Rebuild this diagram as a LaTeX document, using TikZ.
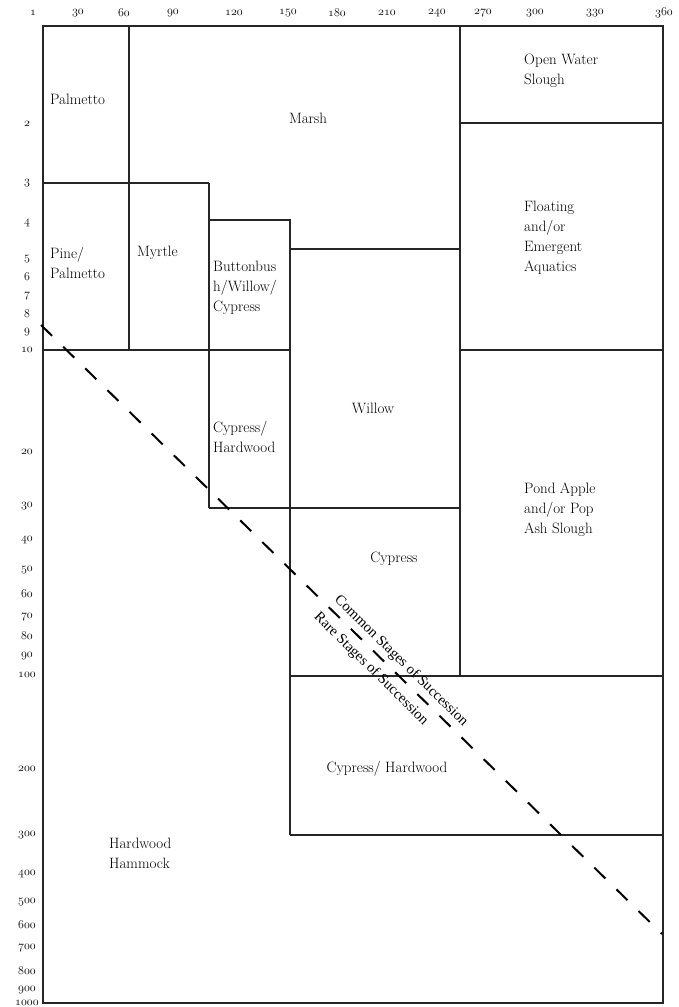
\documentclass[tikz,border=0pt]{standalone}
\usepackage{fontspec}
\newfontfamily\timesf{Liberation Serif}
\tikzset{
  lbl/.style={font=\fontsize{15}{20}\selectfont, inner sep=0pt, align=left},
  ax/.style={font=\fontsize{12.5}{13}\selectfont\usefont{OML}{lmm}{m}{it}, inner sep=0pt},
  wall/.style={line width=2pt, draw=black!85},
  diag/.style={font=\timesf\fontsize{14.6}{16}\selectfont, inner sep=0pt, rotate=-44.4},
  succ/.style={line width=2pt, draw=black, dash pattern=on 15.5pt off 15.5pt},
}
\begin{document}
\begin{tikzpicture}[x=1pt,y=-1pt]
\useasboundingbox (0,0) rectangle (679,1007);
% top axis
\foreach \v/\x [count=\i] in {1/33,30/78,60/124,90/173,120/234,150/288,180/337,210/387,240/437,270/483,300/535,330/595,360/664}
  \node[ax] (t\i) at (\x,13) {\v};
% left axis
\foreach \v/\y [count=\i] in {2/124,3/183,4/223,5/259,6/277,7/296,8/314,9/332,10/350,20/452,30/506,40/540,50/570,60/594,70/617,80/636,90/656,100/675,200/769,300/835,400/874,500/902,600/925,700/948,800/971,900/990,1000/1003}
  \node[ax] (l\i) at (27,\y) {\v};
% walls
\draw[wall] (43,26) rectangle (663,1003);
\draw[wall] (129,26) -- (129,350);
\draw[wall] (43,183) -- (209,183);
\draw[wall] (209,183) -- (209,508);
\draw[wall] (209,220) -- (290,220) -- (290,835);
\draw[wall] (290,249) -- (460,249);
\draw[wall] (43,350) -- (290,350);
\draw[wall] (209,508) -- (460,508);
\draw[wall] (460,26) -- (460,676);
\draw[wall] (460,123) -- (663,123);
\draw[wall] (460,350) -- (663,350);
\draw[wall] (290,676) -- (663,676);
\draw[wall] (290,835) -- (663,835);
% dashed succession line
\coordinate (ds) at (41,325);
\coordinate (de) at (662,934);
\draw[succ] (ds) -- (de);
% labels
\node[lbl, anchor=west] (palm) at (50,99) {Palmetto};
\node[lbl] (marsh) at (308,118) {Marsh};
\node[lbl, anchor=west] (ows) at (524,71) {Open Water\\Slough};
\node[lbl, anchor=west] (pine) at (50,263) {Pine/\\Palmetto};
\node[lbl, anchor=west] (myrtle) at (137,253) {Myrtle};
\node[lbl, anchor=west] (bbw) at (213,288) {Buttonbus\\h/Willow/\\Cypress};
\node[lbl] (willow) at (373,408) {Willow};
\node[lbl, anchor=west] (chs) at (213,437) {Cypress/\\Hardwood};
\node[lbl, anchor=west] (flo) at (524,238) {Floating\\and/or\\Emergent\\Aquatics};
\node[lbl, anchor=west] (pond) at (524,510) {Pond Apple\\and/or Pop\\Ash Slough};
\node[lbl] (cyp) at (394,559) {Cypress};
\node[lbl] (chl) at (387,769) {Cypress/ Hardwood};
\node[lbl, anchor=west] (hh) at (109,853) {Hardwood\\Hammock};
\node[diag] (common) at (401,661) {Common Stages of Succession};
\node[diag] (rare) at (371,669) {Rare Stages of Succession};
\end{tikzpicture}
\end{document}
